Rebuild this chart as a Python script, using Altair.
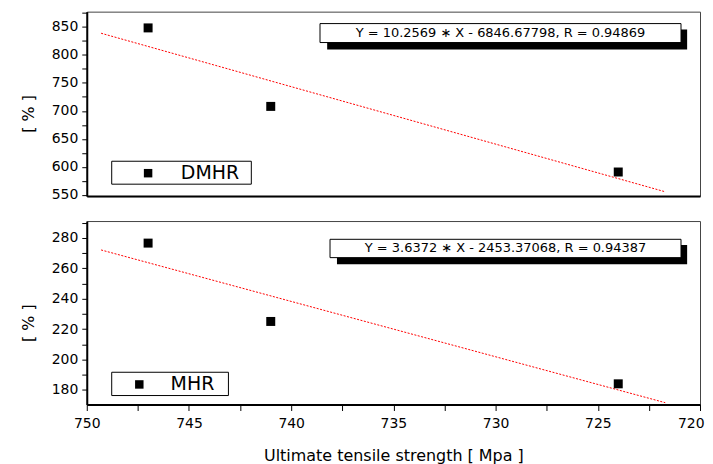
import altair as alt
import pandas as pd

# ---- data ----
uts = [747, 741, 724]                 # Ultimate tensile strength [MPa]
dmhr = [848, 708, 591]                # DMHR [%]
mhr = [276.5, 225, 184]               # MHR [%]
fit_x = [749.3, 721.7]                # extent of the fitted lines
dmhr_fit = [838.5, 555.7]
mhr_fit = [272.0, 171.6]
dmhr_eq = "Y = 10.2569 ∗ X - 6846.67798, R = 0.94869"
mhr_eq = "Y = 3.6372 ∗ X - 2453.37068, R = 0.94387"

x_ticks = [720, 722.5, 725, 727.5, 730, 732.5, 735, 737.5, 740, 742.5, 745, 747.5, 750]
top_ticks = [550, 575, 600, 625, 650, 675, 700, 725, 750, 775, 800, 825, 850, 875]
bot_ticks = [180, 190, 200, 210, 220, 230, 240, 250, 260, 270, 280, 290]

FONT = "DejaVu Sans"


def minor_size(step, size):
    return {"condition": {"test": f"datum.value % {step} != 0", "value": 0}, "value": size}


def panel(name, vals, fit_vals, ydomain, yticks, ymajor, eq, eq_box, shadow_box,
          leg_box, leg_pt, leg_txt_x, height, bottom):
    xs = alt.Scale(domain=[720, 750], reverse=True, nice=False, zero=False)
    ys = alt.Scale(domain=ydomain, nice=False, zero=False)
    if bottom:
        xaxis = alt.Axis(values=x_ticks, labelExpr="datum.value % 5 == 0 ? datum.label : ''",
                         title="Ultimate tensile strength [ Mpa ]", titleFontSize=16,
                         titlePadding=17, labelFontSize=minor_size(5, 14), labelFlush=False,
                         labelAlign={"condition": {"test": "datum.value == 720", "value": "right"},
                                     "value": "center"},
                         labelOffset={"condition": {"test": "datum.value == 720", "value": 4},
                                      "value": 0},
                         labelOverlap=False, tickSize=6, labelPadding=6, grid=False)
    else:
        xaxis = alt.Axis(labels=False, ticks=False, title=None, grid=False)
    yaxis = alt.Axis(values=yticks, labelExpr=f"datum.value % {ymajor} == 0 ? datum.label : ''",
                     title="[ % ]", titleFontSize=16, titlePadding=15, titleY=102,
                     labelFontSize=minor_size(ymajor, 14),
                     labelOverlap=False, tickSize=5, labelPadding=4, grid=False)

    def X(f):
        return alt.X(f, type="quantitative", scale=xs, axis=xaxis)

    def Y(f):
        return alt.Y(f, type="quantitative", scale=ys, axis=yaxis)

    pts = pd.DataFrame({"x": uts, "y": vals})
    fit = pd.DataFrame({"x": fit_x, "y": fit_vals})
    eqdf = pd.DataFrame({"x1": [eq_box[0]], "x2": [eq_box[1]], "y1": [eq_box[2]], "y2": [eq_box[3]],
                         "tx": [(eq_box[0] + eq_box[1]) / 2], "ty": [(eq_box[2] + eq_box[3]) / 2],
                         "t": [eq]})
    shdf = pd.DataFrame({"x1": [shadow_box[0]], "x2": [shadow_box[1]],
                         "y1": [shadow_box[2]], "y2": [shadow_box[3]]})
    lgdf = pd.DataFrame({"x1": [leg_box[0]], "x2": [leg_box[1]], "y1": [leg_box[2]], "y2": [leg_box[3]],
                         "px": [leg_pt[0]], "py": [leg_pt[1]], "tx": [leg_txt_x], "t": [name]})

    shadow = alt.Chart(shdf).mark_rect(color="black").encode(x=X("x1"), x2="x2", y=Y("y1"), y2="y2")
    eqrect = alt.Chart(eqdf).mark_rect(fill="white", stroke="black", strokeWidth=1).encode(
        x=X("x1"), x2="x2", y=Y("y1"), y2="y2")
    eqtext = alt.Chart(eqdf).mark_text(font=FONT, fontSize=13, color="black", align="center",
                                       baseline="middle").encode(x=X("tx"), y=Y("ty"), text="t")
    lgrect = alt.Chart(lgdf).mark_rect(fill="white", stroke="black", strokeWidth=1).encode(
        x=X("x1"), x2="x2", y=Y("y1"), y2="y2")
    lgpt = alt.Chart(lgdf).mark_square(size=72, color="black", opacity=1).encode(x=X("px"), y=Y("py"))
    lgtxt = alt.Chart(lgdf).mark_text(font=FONT, fontSize=19, color="black", align="left",
                                      baseline="middle").encode(x=X("tx"), y=Y("py"), text="t")
    line = alt.Chart(fit).mark_line(color="red", strokeDash=[2, 1.5], strokeWidth=1).encode(
        x=X("x"), y=Y("y"))
    sq = alt.Chart(pts).mark_square(size=81, color="black", opacity=1).encode(x=X("x"), y=Y("y"))

    return alt.layer(shadow, eqrect, eqtext, lgrect, lgpt, lgtxt, line, sq).properties(
        width=615, height=height)


top = panel("DMHR", dmhr, dmhr_fit, [548, 877], top_ticks, 50, dmhr_eq,
            [738.59, 720.93, 855.7, 821.9], [738.24, 720.63, 845.0, 809.4],
            [748.78, 741.95, 610.2, 569.3], [747.0, 588.9], 745.4, 185, False)
bot = panel("MHR", mhr, mhr_fit, [170.4, 291], bot_ticks, 20, mhr_eq,
            [738.10, 720.93, 279.0, 266.95], [737.76, 720.63, 275.27, 262.62],
            [748.78, 743.07, 191.6, 176.3], [747.43, 183.6], 745.9, 184, True)

chart = alt.vconcat(top, bot, spacing=17).properties(
    padding={"left": 11, "top": 2, "right": 0, "bottom": 0}
).configure_view(stroke="#444", strokeWidth=1).configure_axis(
    domainColor="black", domainWidth=2, tickColor="black", tickWidth=1,
    labelFont=FONT, labelColor="black", titleFont=FONT, titleColor="black",
    titleFontWeight="normal"
)

chart.save("out.html", embed_options={"renderer": "svg", "actions": False})
